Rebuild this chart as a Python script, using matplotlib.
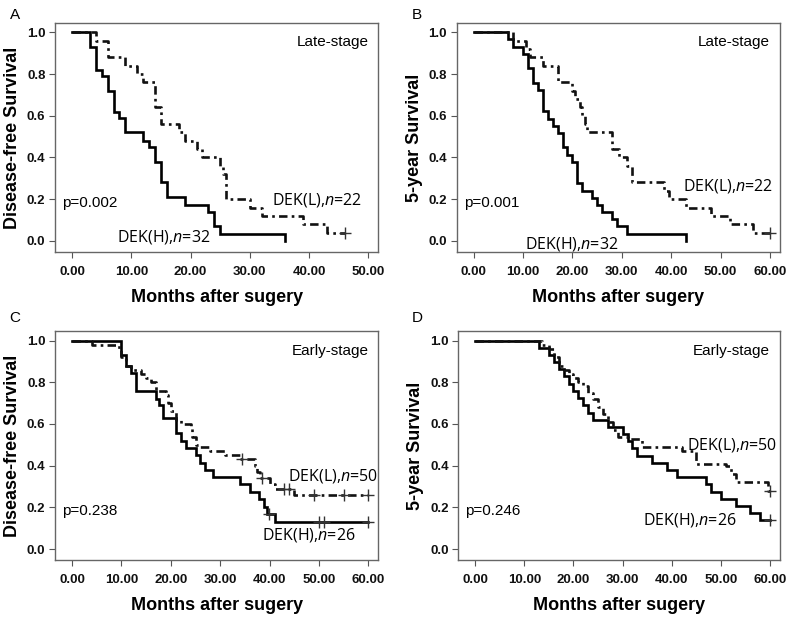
import numpy as np
import matplotlib
matplotlib.use('Agg')
import matplotlib.pyplot as plt

plt.rcParams['mathtext.fontset'] = 'custom'
plt.rcParams['mathtext.rm'] = 'Open Sans'
plt.rcParams['mathtext.it'] = 'Open Sans:italic'

# ---- data ----
# Panel A: late-stage, disease-free survival
a_high_t = [3, 4, 5, 6, 7, 8, 9, 12, 13, 14, 15, 16, 19, 23, 24, 25, 36]
a_high_s = [0.93, 0.82, 0.79, 0.72, 0.62, 0.59, 0.52, 0.48, 0.45, 0.38, 0.28, 0.21, 0.17, 0.14, 0.07, 0.035, 0.0]
a_high_end = 36
a_high_cens = []
a_low_t = [4, 6, 9, 11, 12, 14, 15, 18, 19, 21, 22, 25, 25.5, 26, 30, 32, 39, 43]
a_low_s = [0.96, 0.88, 0.84, 0.80, 0.76, 0.64, 0.56, 0.52, 0.48, 0.44, 0.40, 0.36, 0.32, 0.20, 0.16, 0.12, 0.08, 0.04]
a_low_end = 46
a_low_cens = [46]

# Panel B: late-stage, 5-year survival
b_high_t = [7, 8, 10, 11, 12, 13, 14, 15, 16, 17, 18, 19, 20, 21, 22, 24, 25, 26, 28, 29, 31, 43]
b_high_s = [0.966, 0.931, 0.897, 0.828, 0.759, 0.724, 0.621, 0.586, 0.552, 0.517, 0.448, 0.414,
            0.379, 0.276, 0.241, 0.207, 0.172, 0.138, 0.103, 0.069, 0.034, 0.0]
b_high_end = 43
b_high_cens = []
b_low_t = [8, 10.5, 11.5, 14, 17, 20, 20.5, 21.5, 22, 22.5, 23, 28, 29.5, 31, 32, 38.5, 39.5, 43, 48, 52, 56.5]
b_low_s = [0.96, 0.92, 0.88, 0.84, 0.76, 0.72, 0.68, 0.64, 0.60, 0.56, 0.52, 0.44, 0.40, 0.36, 0.28,
           0.24, 0.20, 0.16, 0.12, 0.08, 0.04]
b_low_end = 60
b_low_cens = [60]

# Panel C: early-stage, disease-free survival
c_high_t = [10, 11, 12, 13, 17, 17.6, 18.5, 21, 22, 23, 25, 26, 27, 28.5, 34, 36, 37.8, 38.8, 39.4, 41]
c_high_s = [0.93, 0.88, 0.845, 0.76, 0.72, 0.69, 0.63, 0.555, 0.52, 0.485, 0.45, 0.415, 0.38, 0.345,
            0.31, 0.275, 0.24, 0.20, 0.17, 0.13]
c_high_end = 60
c_high_cens = [39.8, 50, 51, 60]
c_low_t = [4, 9.5, 10, 11, 12, 14, 15, 16, 17, 19, 19.5, 20, 21, 22, 24, 24.3, 25, 26, 28, 31, 34,
           37, 37.5, 38, 40, 41, 45]
c_low_s = [0.98, 0.96, 0.92, 0.88, 0.86, 0.84, 0.82, 0.80, 0.76, 0.74, 0.70, 0.66, 0.62, 0.60, 0.58,
           0.54, 0.50, 0.49, 0.47, 0.45, 0.43, 0.40, 0.37, 0.34, 0.31, 0.29, 0.26]
c_low_end = 60
c_low_cens = [34.5, 38.5, 43, 44, 49, 55, 60]

# Panel D: early-stage, 5-year survival
d_high_t = [13, 15, 16, 17, 18, 19, 20, 21, 22, 23, 24, 27, 30, 31, 32, 33, 36, 39, 41, 47, 48, 50, 53, 56, 58]
d_high_s = [0.966, 0.931, 0.897, 0.862, 0.828, 0.793, 0.759, 0.724, 0.690, 0.655, 0.621, 0.586, 0.552,
            0.517, 0.483, 0.448, 0.414, 0.379, 0.345, 0.310, 0.276, 0.241, 0.207, 0.172, 0.138]
d_high_end = 60
d_high_cens = [60]
d_low_t = [13.5, 15, 16, 17, 18, 19, 20, 21, 22, 23, 24, 25, 26, 27, 28, 29, 31, 34, 42, 45, 51, 52, 53, 59.5]
d_low_s = [0.98, 0.96, 0.92, 0.88, 0.86, 0.84, 0.82, 0.80, 0.78, 0.75, 0.72, 0.68, 0.65, 0.61, 0.57,
           0.54, 0.53, 0.49, 0.47, 0.41, 0.40, 0.36, 0.32, 0.28]
d_low_end = 60
d_low_cens = [60]

panels = [
    dict(letter='A', ylabel='Disease-free Survival', stage='Late-stage', p='p=0.002', xmax=50,
         high=(a_high_t, a_high_s, a_high_end, a_high_cens), low=(a_low_t, a_low_s, a_low_end, a_low_cens),
         nh=32, nl=22, lpos=(0.67, 0.227), hpos=(0.19, 0.066)),
    dict(letter='B', ylabel='5-year Survival', stage='Late-stage', p='p=0.001', xmax=60,
         high=(b_high_t, b_high_s, b_high_end, b_high_cens), low=(b_low_t, b_low_s, b_low_end, b_low_cens),
         nh=32, nl=22, lpos=(0.70, 0.288), hpos=(0.21, 0.035)),
    dict(letter='C', ylabel='Disease-free Survival', stage='Early-stage', p='p=0.238', xmax=60,
         high=(c_high_t, c_high_s, c_high_end, c_high_cens), low=(c_low_t, c_low_s, c_low_end, c_low_cens),
         nh=26, nl=50, lpos=(0.72, 0.367), hpos=(0.64, 0.108)),
    dict(letter='D', ylabel='5-year Survival', stage='Early-stage', p='p=0.246', xmax=60,
         high=(d_high_t, d_high_s, d_high_end, d_high_cens), low=(d_low_t, d_low_s, d_low_end, d_low_cens),
         nh=26, nl=50, lpos=(0.71, 0.502), hpos=(0.573, 0.175)),
]

positions = [
    [0.069, 0.593, 0.404, 0.370],
    [0.571, 0.593, 0.404, 0.370],
    [0.069, 0.095, 0.404, 0.370],
    [0.573, 0.095, 0.402, 0.370],
]
letter_pos = [(0.012, 0.975), (0.515, 0.975), (0.012, 0.487), (0.515, 0.487)]

tick_font = ['Liberation Sans Narrow', 'Liberation Sans', 'DejaVu Sans']
lab_font = ['Liberation Sans', 'DejaVu Sans']
note_font = ['Open Sans', 'DejaVu Sans']


def km_steps(t, s, end):
    xs = np.concatenate([[0], t, [end]])
    ys = np.concatenate([[1.0], s, [s[-1]]])
    return xs, ys


def surv_at(t, s, x):
    idx = np.searchsorted(np.asarray(t), x, side='right') - 1
    return 1.0 if idx < 0 else s[idx]


fig = plt.figure(figsize=(8, 6.19), dpi=100)

for cfg, pos, lp in zip(panels, positions, letter_pos):
    ax = fig.add_axes(pos)
    xmax = cfg['xmax']
    ax.set_xlim(-0.057 * xmax, 1.034 * xmax)
    ax.set_ylim(-0.053, 1.045)

    # high expression: solid line
    t, s, end, cens = cfg['high']
    xs, ys = km_steps(t, s, end)
    ax.step(xs, ys, where='post', color='black', lw=1.9, solid_joinstyle='miter')
    if cens:
        ax.plot(cens, [surv_at(t, s, c) for c in cens], '+', color='#333333', ms=8, mew=1.0)

    # low expression: dash-dot line
    t, s, end, cens = cfg['low']
    xs, ys = km_steps(t, s, end)
    ax.step(xs, ys, where='post', color='#111111', lw=1.9, linestyle=(0, (3.2, 1.6, 1.0, 1.6)))
    if cens:
        ax.plot(cens, [surv_at(t, s, c) for c in cens], '+', color='#333333', ms=8, mew=1.0)

    ax.set_xticks(np.arange(0, xmax + 1, 10))
    ax.set_xticklabels(['%.2f' % v for v in np.arange(0, xmax + 1, 10)])
    ax.set_yticks(np.arange(0, 1.01, 0.2))
    ax.set_yticklabels(['%.1f' % v for v in np.arange(0, 1.01, 0.2)])
    for lbl in ax.get_xticklabels() + ax.get_yticklabels():
        lbl.set_family(tick_font)
        lbl.set_fontweight('bold')
        lbl.set_fontsize(9.5)
        lbl.set_color('#111111')
    ax.tick_params(direction='out', length=4, width=0.8, color='#555555', pad=3)
    ax.tick_params(axis='x', pad=6)
    for sp in ax.spines.values():
        sp.set_color('#666666')
        sp.set_linewidth(1.0)

    ax.set_xlabel('Months after sugery', family=lab_font, fontweight='bold', fontsize=13, labelpad=8)
    ax.set_ylabel(cfg['ylabel'], family=lab_font, fontweight='bold', fontsize=13, labelpad=4)

    ax.text(0.969, 0.915, cfg['stage'], transform=ax.transAxes, ha='right', va='center',
            family=lab_font, fontsize=11)
    ax.text(0.022, 0.215, cfg['p'], transform=ax.transAxes, ha='left', va='center',
            family=lab_font, fontsize=11)
    ax.text(cfg['lpos'][0], cfg['lpos'][1], 'DEK(L),$\\it{n}$=%d' % cfg['nl'],
            transform=ax.transAxes, ha='left', va='center', family=note_font, fontsize=11.5)
    ax.text(cfg['hpos'][0], cfg['hpos'][1], 'DEK(H),$\\it{n}$=%d' % cfg['nh'],
            transform=ax.transAxes, ha='left', va='center', family=note_font, fontsize=11.5)

    fig.text(lp[0], lp[1], cfg['letter'], family=lab_font, fontsize=11, ha='left', va='center')

fig.savefig('out.png', dpi=100)
